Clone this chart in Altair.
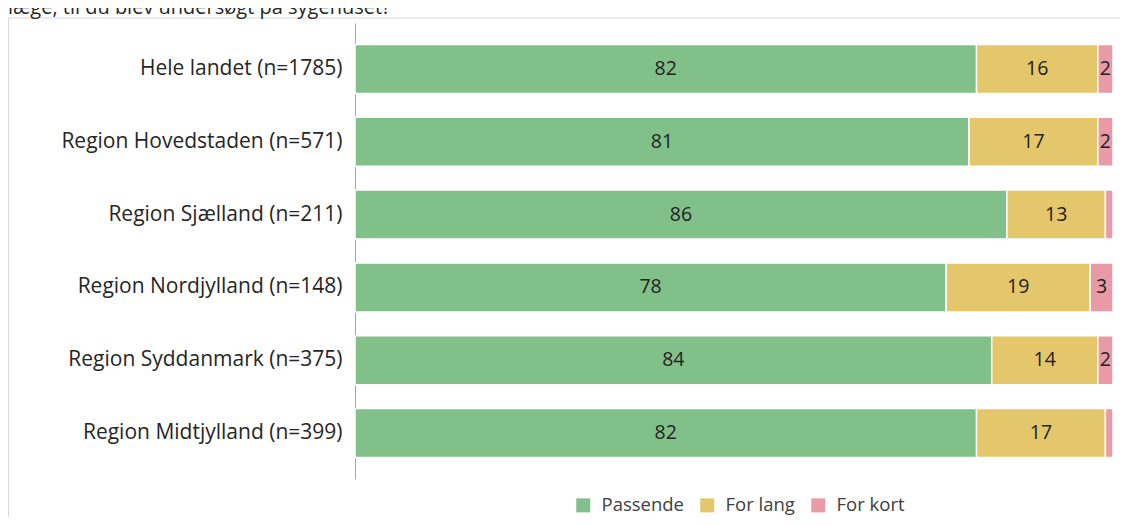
import altair as alt
import pandas as pd

regions = [
    "Hele landet (n=1785)",
    "Region Hovedstaden (n=571)",
    "Region Sjælland (n=211)",
    "Region Nordjylland (n=148)",
    "Region Syddanmark (n=375)",
    "Region Midtjylland (n=399)",
]
passende = [82, 81, 86, 78, 84, 82]
for_lang = [16, 17, 13, 19, 14, 17]
for_kort = [2, 2, 1, 3, 2, 1]
categories = ["Passende", "For lang", "For kort"]
colors = ["#82C08A", "#E4C66B", "#E89AA6"]
title_text = "læge, til du blev undersøgt på sygehuset?"

rows = []
for i, r in enumerate(regions):
    for j, (cat, vals) in enumerate(zip(categories, [passende, for_lang, for_kort])):
        rows.append({"region": r, "category": cat, "value": vals[i], "order": j})
df = pd.DataFrame(rows)

FONT = "Open Sans"

base = alt.Chart(df).transform_stack(
    stack="value", groupby=["region"], as_=["v0", "v1"],
    sort=[alt.SortField("order", order="ascending")],
).transform_calculate(mid="(datum.v0 + datum.v1) / 2")

yenc = alt.Y(
    "region:N", sort=regions,
    scale=alt.Scale(paddingInner=0.327, paddingOuter=0.295),
    axis=alt.Axis(title=None, domainColor="#A6A6A6", domainWidth=1, ticks=False,
                  labelFontSize=21, labelColor="#262626", labelPadding=13,
                  labelFont=FONT, labelLimit=400),
)

bars = base.mark_bar(stroke="white", strokeWidth=1.5).encode(
    y=yenc,
    x=alt.X("v0:Q", scale=alt.Scale(domain=[0, 100], nice=False), axis=None),
    x2="v1:Q",
    color=alt.Color(
        "category:N",
        scale=alt.Scale(domain=categories, range=colors),
        legend=alt.Legend(
            title=None, orient="none", legendX=219, legendY=473,
            direction="horizontal", symbolType="square", symbolSize=196,
            symbolStrokeWidth=0, labelFontSize=18.5, labelFont=FONT,
            labelColor="#404040", labelOffset=9, columnPadding=14, padding=0,
        ),
    ),
)

labels = base.transform_filter("datum.value >= 2").mark_text(
    fontSize=19.5, font=FONT, color="#222222"
).encode(
    y=alt.Y("region:N", sort=regions),
    x=alt.X("mid:Q"),
    text="value:Q",
)

border = alt.Chart(pd.DataFrame({"a": [0]})).mark_rule(
    color="#D9D9D9", strokeWidth=1, clip=False
).encode(x=alt.value(-347), x2=alt.value(770), y=alt.value(-5), y2=alt.value(-5))
border_left = alt.Chart(pd.DataFrame({"a": [0]})).mark_rule(
    color="#D9D9D9", strokeWidth=1, clip=False
).encode(x=alt.value(-346.5), x2=alt.value(-346.5), y=alt.value(-5), y2=alt.value(500))

title = alt.Chart(pd.DataFrame({"t": [title_text]})).mark_text(
    fontSize=20, font=FONT, color="#262626", align="left", baseline="alphabetic"
).encode(x=alt.value(-347), y=alt.value(-9), text="t:N")

chart = alt.layer(border, border_left, title, bars, labels).properties(
    width=758, height=456,
    autosize=alt.AutoSizeParams(type="none"),
    padding={"left": 347, "top": 15, "right": 7, "bottom": 38},
).configure_view(stroke=None)

chart.save("out.html", embed_options={"renderer": "svg", "actions": False})
